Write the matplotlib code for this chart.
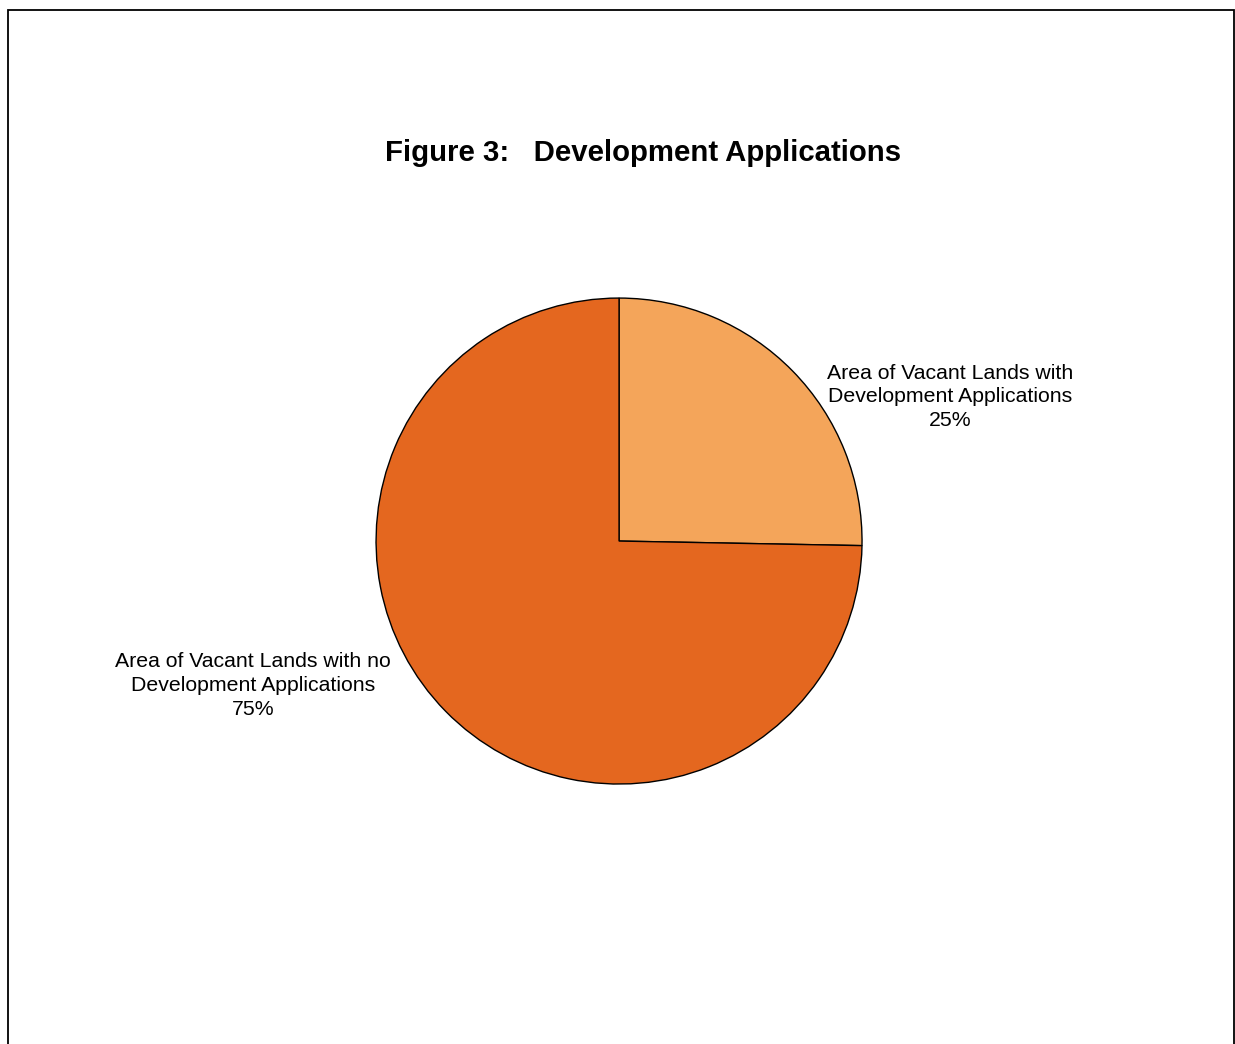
import matplotlib.pyplot as plt
from matplotlib.patches import Rectangle

# slice values (%)
categories = ['Area of Vacant Lands with\nDevelopment Applications',
              'Area of Vacant Lands with no\nDevelopment Applications']
values = [25.3, 74.7]
shown_pct = ['25%', '75%']
colors = ['#F4A55A', '#E4671F']

plt.rcParams['font.family'] = ['Liberation Sans', 'DejaVu Sans']

fig = plt.figure(figsize=(12.35, 10.44), dpi=100)

# page frame
fig.patches.append(Rectangle((7.5 / 1235, -0.1), (1234 - 7.5) / 1235, 1.1 - 9.5 / 1044,
                             transform=fig.transFigure, fill=False,
                             edgecolor='black', linewidth=1.3))

fig.text(0.521, 0.853, 'Figure 3:   Development Applications', ha='center', va='center',
         fontsize=21.2, fontweight='bold')

ax = fig.add_axes([0.3045, 0.249, 0.3935, 0.4655])
ax.pie(values, colors=colors, startangle=90, counterclock=False,
       wedgeprops=dict(edgecolor='black', linewidth=1.0))
ax.set_xlim(-1, 1)
ax.set_ylim(-1, 1)
ax.set_aspect('equal')
ax.axis('off')

label_pos = [(1.362, 0.593), (-1.506, -0.593)]
for name, pct, (x, y) in zip(categories, shown_pct, label_pos):
    ax.text(x, y, name + '\n' + pct, ha='center', va='center', fontsize=15.3,
            linespacing=1.33)

fig.savefig('out.png', dpi=100)
